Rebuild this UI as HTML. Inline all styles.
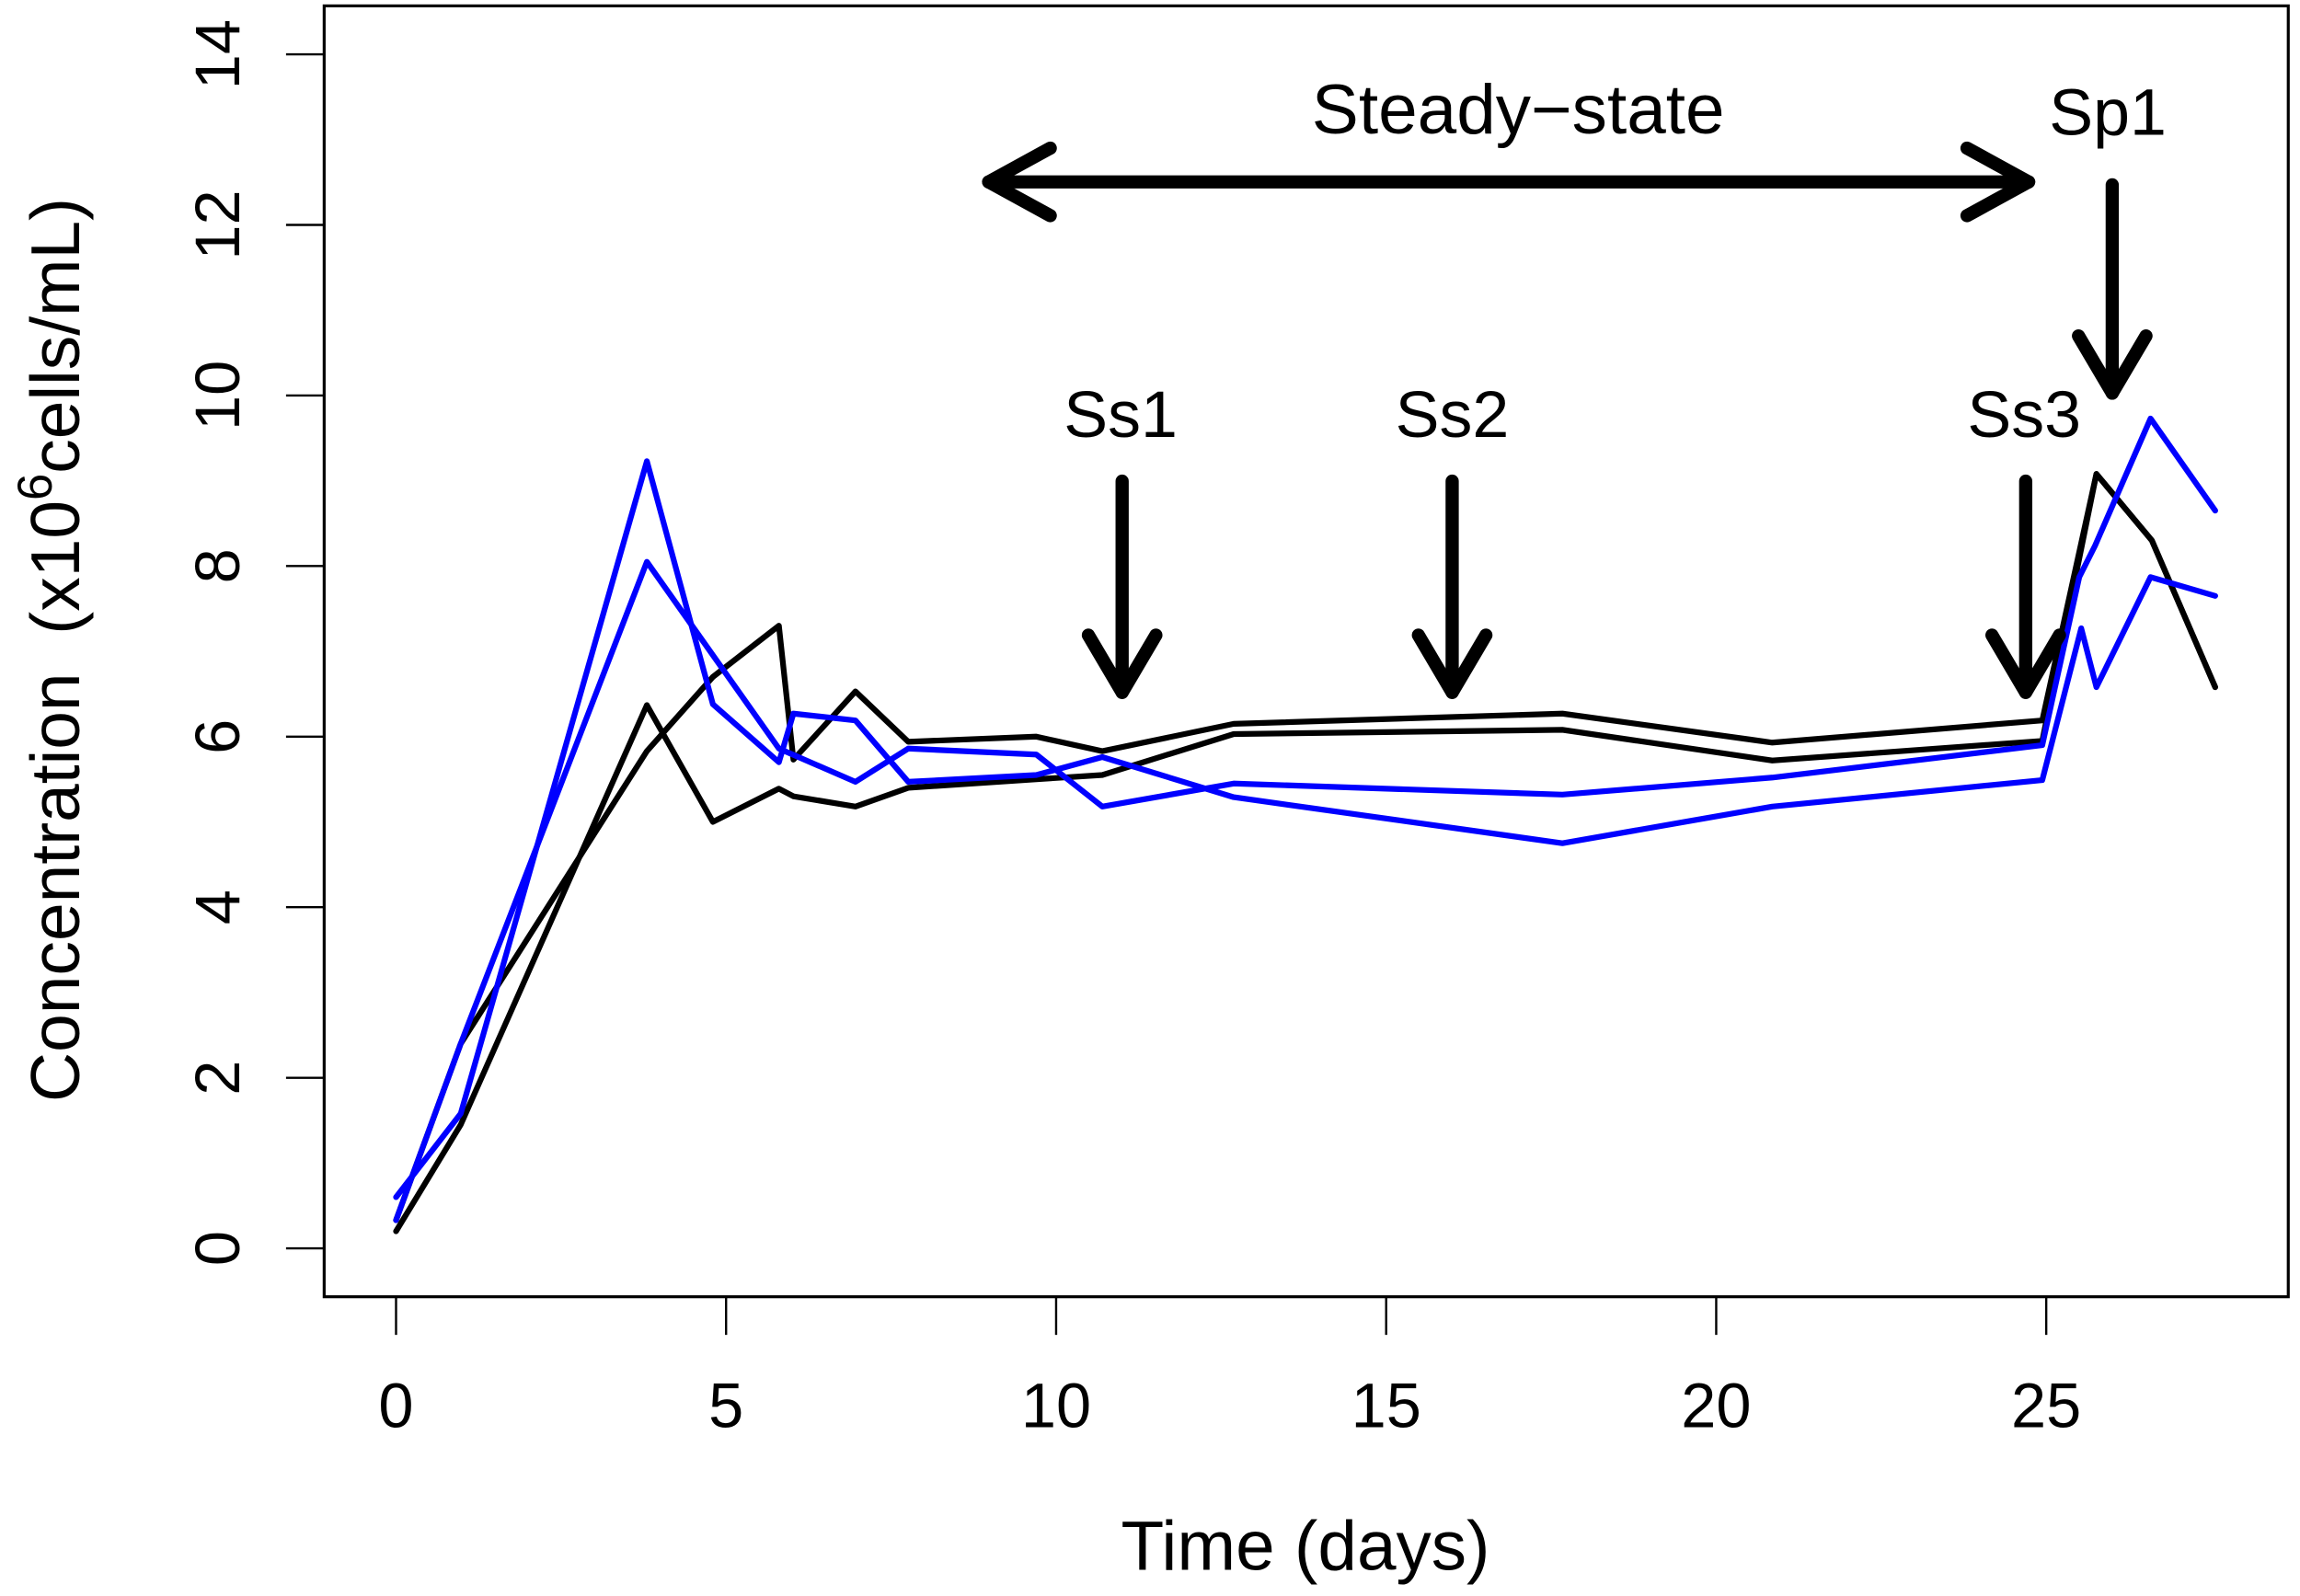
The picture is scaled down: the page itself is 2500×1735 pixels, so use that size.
<!DOCTYPE html>
<html><head><meta charset="utf-8"><style>
html,body{margin:0;padding:0;background:#fff;}
svg{display:block;}
text{font-family:"Liberation Sans",Arial,sans-serif;fill:#000;}
</style></head><body>
<svg id="chart" width="2500" height="1735" viewBox="0 0 1568 1088" preserveAspectRatio="none" xmlns="http://www.w3.org/2000/svg">
<rect x="221" y="4" width="1339" height="880" fill="none" stroke="#000" stroke-width="2"/>
<g id="xaxis"></g>
<g id="yaxis"></g>
<text x="890" y="1070" font-size="48" text-anchor="middle">Time (days)</text>
<text transform="translate(54,443) rotate(-90)" font-size="47" text-anchor="middle">Concentration&#160;&#160;(x10<tspan font-size="33" dy="-19">6</tspan><tspan dy="19">cells/mL)</tspan></text>
<g id="series"></g>
<g id="annot" stroke="#000" stroke-width="9" stroke-linecap="round" stroke-linejoin="round" fill="none">
  <g>
    <line x1="674" y1="124" x2="1383" y2="124"/>
    <polyline points="716,101 674,124 716,147"/>
    <polyline points="1341,101 1383,124 1341,147"/>
  </g>
  <g>
    <line x1="1440" y1="126" x2="1440" y2="268"/>
    <polyline points="1417,229 1440,268 1463,229"/>
  </g>
  <g>
    <line x1="765" y1="328" x2="765" y2="472"/>
    <polyline points="742,433 765,472 788,433"/>
  </g>
  <g>
    <line x1="990" y1="328" x2="990" y2="472"/>
    <polyline points="967,433 990,472 1013,433"/>
  </g>
  <g>
    <line x1="1381" y1="328" x2="1381" y2="472"/>
    <polyline points="1358,433 1381,472 1404,433"/>
  </g>
</g>
<text x="1035" y="91" font-size="48" text-anchor="middle">Steady−state</text>
<text x="1437" y="92" font-size="45" text-anchor="middle">Sp1</text>
<text x="764" y="298" font-size="45" text-anchor="middle">Ss1</text>
<text x="990" y="298" font-size="45" text-anchor="middle">Ss2</text>
<text x="1380" y="298" font-size="45" text-anchor="middle">Ss3</text>
</svg>
<script>
const xTicks = [0, 5, 10, 15, 20, 25];
const yTicks = [0, 2, 4, 6, 8, 10, 12, 14];
const daysBlackA = [0, 0.98, 3.8, 4.8, 5.8, 6.02, 6.96, 7.76, 9.7, 10.7, 12.69, 17.67, 20.85, 24.94, 25.76, 26.6, 27.56];
const valsBlackA = [0.33, 2.4, 5.83, 6.7, 7.3, 5.73, 6.53, 5.94, 6.0, 5.83, 6.15, 6.27, 5.93, 6.19, 9.08, 8.3, 6.58];
const daysBlackB = [0, 0.98, 3.8, 4.8, 5.8, 6.02, 6.96, 7.76, 9.7, 10.7, 12.69, 17.67, 20.85, 24.94, 25.76, 26.6, 27.56];
const valsBlackB = [0.2, 1.45, 6.37, 5.0, 5.39, 5.3, 5.18, 5.4, 5.5, 5.55, 6.03, 6.08, 5.72, 5.95, 9.08, 8.3, 6.58];
const daysBlueA = [0, 0.98, 3.8, 4.8, 5.8, 6.02, 6.96, 7.76, 9.7, 10.7, 12.69, 17.67, 20.85, 24.94, 25.53, 25.76, 26.58, 27.56];
const valsBlueA = [0.6, 1.58, 9.23, 6.38, 5.7, 6.27, 6.19, 5.47, 5.55, 5.76, 5.29, 4.75, 5.18, 5.49, 7.27, 6.58, 7.87, 7.65];
const daysBlueB = [0, 0.98, 3.8, 5.8, 6.96, 7.76, 9.7, 10.7, 12.69, 17.67, 20.85, 24.94, 25.5, 25.74, 26.58, 27.56];
const valsBlueB = [0.33, 2.4, 8.05, 5.86, 5.47, 5.86, 5.79, 5.18, 5.45, 5.32, 5.52, 5.9, 7.87, 8.24, 9.73, 8.65];

const NS = "http://www.w3.org/2000/svg";
function sx(d){ return 270 + 45 * d; }
function sy(v){ return 851 - 58.14 * v; }

const xg = document.getElementById('xaxis');
xTicks.forEach(t => {
  const l = document.createElementNS(NS, 'line');
  
  
  l.setAttribute('x1', sx(t)); l.setAttribute('x2', sx(t));
  l.setAttribute('y1', 884); l.setAttribute('y2', 910);
  l.setAttribute('stroke', '#000'); l.setAttribute('stroke-width', '1.5');
  xg.appendChild(l);
  const tx = document.createElementNS(NS, 'text');
  
  
  tx.setAttribute('x', sx(t)); tx.setAttribute('y', 973);
  tx.setAttribute('font-size', '43'); tx.setAttribute('text-anchor', 'middle');
  tx.textContent = t;
  xg.appendChild(tx);
});
const yg = document.getElementById('yaxis');
yTicks.forEach(t => {
  const l = document.createElementNS(NS, 'line');
  
  
  l.setAttribute('x1', 195); l.setAttribute('x2', 221);
  l.setAttribute('y1', sy(t)); l.setAttribute('y2', sy(t));
  l.setAttribute('stroke', '#000'); l.setAttribute('stroke-width', '1.5');
  yg.appendChild(l);
  const tx = document.createElementNS(NS, 'text');
  
  
  tx.setAttribute('transform', 'translate(163,' + sy(t) + ') rotate(-90)');
  tx.setAttribute('font-size', '43'); tx.setAttribute('text-anchor', 'middle');
  tx.textContent = t;
  yg.appendChild(tx);
});

const sg = document.getElementById('series');
function drawLine(days, vals, color, name){
  const p = document.createElementNS(NS, 'polyline');
  
  
  p.setAttribute('points', days.map((d, i) => sx(d) + ',' + sy(vals[i])).join(' '));
  p.setAttribute('fill', 'none');
  p.setAttribute('stroke', color);
  p.setAttribute('stroke-width', '3.9');
  p.setAttribute('stroke-linejoin', 'round');
  p.setAttribute('stroke-linecap', 'round');
  sg.appendChild(p);
}
drawLine(daysBlackA, valsBlackA, '#000', 'series-black-a');
drawLine(daysBlackB, valsBlackB, '#000', 'series-black-b');
drawLine(daysBlueA, valsBlueA, '#0000ff', 'series-blue-a');
drawLine(daysBlueB, valsBlueB, '#0000ff', 'series-blue-b');
</script>
</body></html>
